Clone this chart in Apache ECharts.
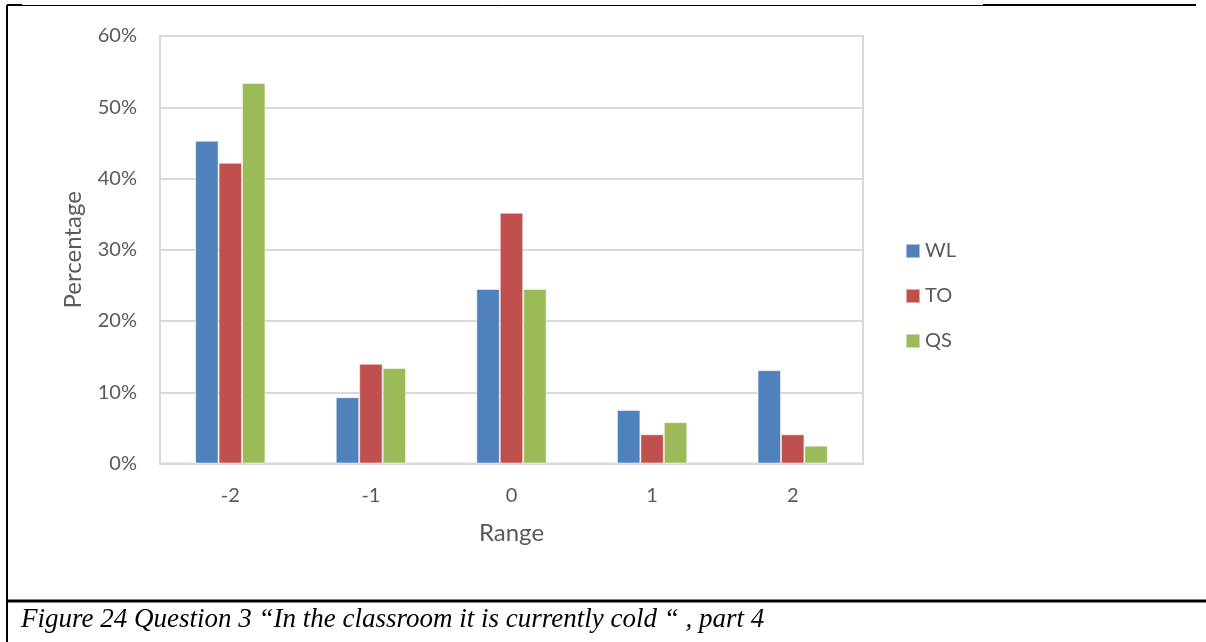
<!DOCTYPE html>
<html>
<head>
<meta charset="utf-8">
<script src="https://cdn.jsdelivr.net/npm/echarts@6/dist/echarts.min.js"></script>
<style>
html,body{margin:0;padding:0;background:#fff;}
#chart{width:1206px;height:642px;}
</style>
</head>
<body>
<div id="chart"></div>
<script>
const categories = ['-2', '-1', '0', '1', '2'];
const seriesNames = ['WL', 'TO', 'QS'];
const wl = [45.3, 9.3, 24.5, 7.5, 13.1];
const to = [42.2, 14.0, 35.2, 4.1, 4.1];
const qs = [53.4, 13.4, 24.5, 5.8, 2.5];
const yTicks = { min: 0, max: 60, interval: 10 };
const caption = 'Figure 24 Question 3 \u201cIn the classroom it is currently cold \u201c , part 4';

const colors = ['#4F81BD', '#C0504D', '#9BBB59'];
const labelFont = 'Lato, "Open Sans", sans-serif';
const chart = echarts.init(document.getElementById('chart'));
const dataSets = [wl, to, qs];

chart.setOption({
  animation: false,
  color: colors,
  grid: {
    left: 160, right: 343, top: 36, bottom: 178.5,
    show: true, borderColor: '#D9D9D9', borderWidth: 2, containLabel: false
  },
  legend: {
    orient: 'vertical',
    left: 900, top: 236,
    itemWidth: 14, itemHeight: 14, itemGap: 25,
    icon: 'rect',
    textStyle: { color: '#595959', fontSize: 20, fontFamily: labelFont },
    data: seriesNames
  },
  xAxis: {
    type: 'category',
    data: categories,
    axisLine: { lineStyle: { color: '#D9D9D9', width: 2 } },
    axisTick: { show: false },
    axisLabel: { color: '#595959', fontSize: 20, fontFamily: labelFont, margin: 22 },
    name: 'Range',
    nameLocation: 'middle',
    nameGap: 58,
    nameTextStyle: { color: '#595959', fontSize: 24, fontFamily: labelFont }
  },
  yAxis: {
    type: 'value',
    min: yTicks.min, max: yTicks.max, interval: yTicks.interval,
    axisLine: { show: true, lineStyle: { color: '#D9D9D9', width: 2 } },
    axisTick: { show: false },
    splitLine: { lineStyle: { color: '#D9D9D9', width: 2 } },
    axisLabel: { color: '#595959', fontSize: 20, fontFamily: labelFont, margin: 23, formatter: '{value}%' },
    name: 'Percentage',
    nameLocation: 'middle',
    nameGap: 75,
    nameTextStyle: { color: '#595959', fontSize: 24, fontFamily: labelFont }
  },
  series: seriesNames.map((n, i) => ({
    name: n,
    type: 'bar',
    data: dataSets[i],
    barGap: '0%',
    barCategoryGap: '50%',
    itemStyle: { color: colors[i], borderColor: 'rgba(255,255,255,0.5)', borderWidth: 1 }
  })),
  graphic: [
    { type: 'line', shape: { x1: 7, y1: 5, x2: 7, y2: 642 }, style: { stroke: '#000', lineWidth: 2 } },
    { type: 'line', shape: { x1: 7, y1: 5, x2: 22, y2: 5 }, style: { stroke: '#000', lineWidth: 2 } },
    { type: 'line', shape: { x1: 22, y1: 5.5, x2: 983, y2: 5.5 }, style: { stroke: '#000', lineWidth: 1 } },
    { type: 'line', shape: { x1: 983, y1: 5, x2: 1196, y2: 5 }, style: { stroke: '#000', lineWidth: 2 } },
    { type: 'line', shape: { x1: 7, y1: 601, x2: 1206, y2: 601 }, style: { stroke: '#000', lineWidth: 3 } },
    { type: 'text', left: 21, top: 606,
      style: { text: caption, fill: '#000', font: 'italic 27px "Liberation Serif", "Times New Roman", serif' } }
  ]
});
</script>
</body>
</html>
